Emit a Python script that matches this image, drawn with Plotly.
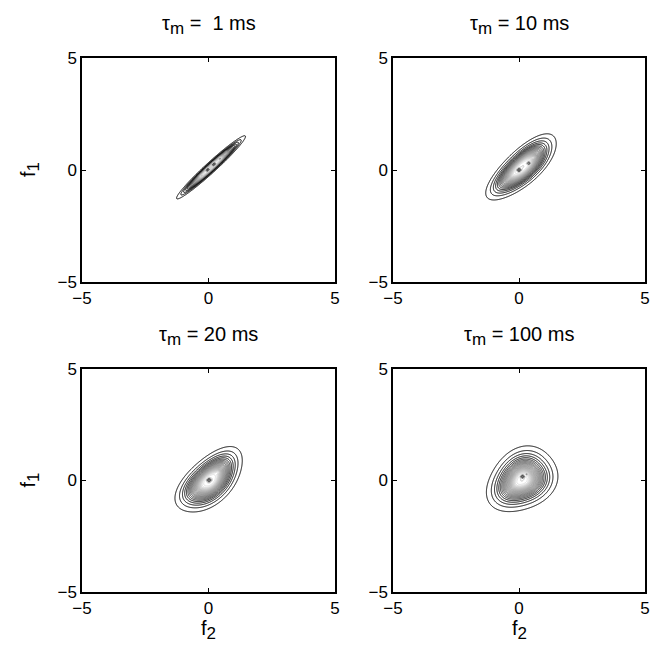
import numpy as np
import plotly.graph_objects as go

# --- panel descriptions -------------------------------------------------
SUB = "<sub><span style='font-size:17px'>{}</span></sub>"
titles = ["τ" + SUB.format("m") + " =\u00a0 1 ms", "τ" + SUB.format("m") + " = 10 ms",
          "τ" + SUB.format("m") + " = 20 ms", "τ" + SUB.format("m") + " = 100 ms"]
y_label = "f" + SUB.format("1")
x_label = "f" + SUB.format("2")

# outer-contour ellipse of each joint density (f2 horizontal, f1 vertical)
center_f2 = [0.10, 0.12, 0.05, 0.12]
center_f1 = [0.12, 0.12, 0.00, 0.03]
tilt_deg = [46, 47, 50, 50]
major_half = [1.95, 1.90, 1.75, 1.60]
minor_half = [0.22, 0.72, 0.92, 1.25]
plateau = [0.30, 0.28, 0.26, 0.22]
wobble_amp = [0.00, 0.03, 0.04, 0.05]
wobble_phase = [0.0, 1.0, 2.2, 0.6]

# local maxima inside the core (f2, f1)
peaks_f2 = [[-0.30, -0.05, 0.20, 0.45, 0.70], [0.00, 0.40, 0.63], [0.02, 0.38], [0.14, 0.32]]
peaks_f1 = [[-0.25, 0.02, 0.27, 0.52, 0.77], [0.00, 0.30, 0.58], [0.02, 0.38], [0.18, 0.30]]
peak_height = [0.14, 0.14, 0.14, 0.14]

levels_start, levels_end, levels_step = 0.05, 1.30, 0.035

grid = np.linspace(-2.6, 2.6, 341)
GX, GY = np.meshgrid(grid, grid)


def soft_excess(d, r0, e=0.08):
    return ((d - r0) + np.sqrt((d - r0) ** 2 + e ** 2)) / 2


def density(i):
    dx = GX - center_f2[i]
    dy = GY - center_f1[i]
    th = np.deg2rad(tilt_deg[i])
    u = dx * np.cos(th) + dy * np.sin(th)
    v = -dx * np.sin(th) + dy * np.cos(th)
    un, vn = u / major_half[i], v / minor_half[i]
    d = np.sqrt(un ** 2 + vn ** 2)
    phi = np.arctan2(vn, un)
    d = d * (1 + wobble_amp[i] * np.cos(3 * phi + wobble_phase[i]))
    r0 = plateau[i]
    s = (soft_excess(d, r0) - soft_excess(0.0, r0)) / (soft_excess(1.0, r0) - soft_excess(0.0, r0))
    z = np.exp(-3.0 * s)
    for px, py in zip(peaks_f2[i], peaks_f1[i]):
        z = z + peak_height[i] * np.exp(-((GX - px) ** 2 + (GY - py) ** 2) / (2 * 0.05 ** 2))
    return z.astype(np.float32)


line_scale = [[0.0, "#000000"], [0.12, "#000000"], [0.2, "#444444"],
              [0.35, "#858585"], [0.55, "#a8a8a8"], [0.75, "#c8c8c8"],
              [0.86, "#e4e4e4"], [0.9, "#666666"], [1.0, "#222222"]]

fig = go.Figure()

W, H = 651, 655
x_doms = [[82 / W, 335 / W], [393 / W, 645 / W]]
y_doms = [[1 - 282 / H, 1 - 58 / H], [1 - 592 / H, 1 - 369 / H]]
title_y = [25, 336]

tick_font = dict(family="Liberation Sans, Arial, sans-serif", size=17, color="black")
text_font = dict(family="Liberation Sans, Arial, sans-serif", size=20, color="black")

for i in range(4):
    r, c = divmod(i, 2)
    ax = "" if i == 0 else str(i + 1)
    fig.add_trace(go.Contour(
        x=grid, y=grid, z=density(i),
        xaxis="x" + ax, yaxis="y" + ax,
        contours=dict(coloring="lines", start=levels_start, end=levels_end,
                      size=levels_step, showlabels=False),
        colorscale=line_scale, zmin=0, zmax=1.15, zauto=False,
        line=dict(width=1.0, smoothing=1.0),
        showscale=False, hoverinfo="skip",
    ))
    axis_common = dict(range=[-5, 5], tickvals=[-5, 0, 5],
                       ticktext=["\u22125", "0", "5"],
                       ticks="inside", ticklen=4, tickwidth=1, tickcolor="black",
                       showline=True, linecolor="black", linewidth=1.5,
                       mirror="ticks", showgrid=False, zeroline=False,
                       automargin=False, tickfont=tick_font, fixedrange=True)
    fig.update_layout(**{
        "xaxis" + ax: dict(axis_common, domain=x_doms[c], anchor="y" + ax),
        "yaxis" + ax: dict(axis_common, domain=y_doms[r], anchor="x" + ax),
    })
    # panel title
    fig.add_annotation(text=titles[i], x=sum(x_doms[c]) / 2,
                       y=1 - title_y[r] / H, xref="paper", yref="paper",
                       xanchor="center", yanchor="middle",
                       showarrow=False, font=text_font)

# axis labels: f1 on the left column, f2 under the bottom row
for r in range(2):
    fig.add_annotation(text=y_label, x=30 / W, y=sum(y_doms[r]) / 2,
                       xref="paper", yref="paper", textangle=-90,
                       xanchor="center", yanchor="middle",
                       showarrow=False, font=text_font)
for c in range(2):
    fig.add_annotation(text=x_label, x=sum(x_doms[c]) / 2, y=1 - 630 / H,
                       xref="paper", yref="paper",
                       xanchor="center", yanchor="middle",
                       showarrow=False, font=text_font)

fig.update_layout(width=W, height=H, margin=dict(l=0, r=0, t=0, b=0, pad=0),
                  paper_bgcolor="white", plot_bgcolor="white",
                  showlegend=False, font=tick_font)

fig.write_html("out.html")
